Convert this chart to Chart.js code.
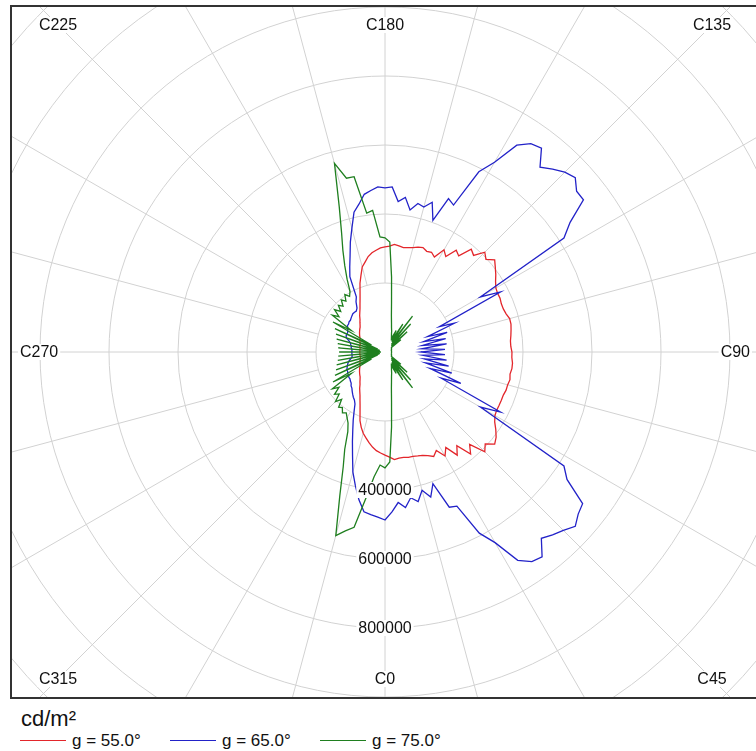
<!DOCTYPE html>
<html>
<head>
<meta charset="utf-8">
<script src="https://cdn.jsdelivr.net/npm/chart.js@4.4.1/dist/chart.umd.min.js"></script>
<style>
  body { margin: 0; background: #fff; font-family: "Liberation Sans", Arial, sans-serif; color: #111; }
  #frame { position: absolute; left: 10px; top: 5px; width: 746px; height: 690px; border: 2px solid #333; }
  #frame canvas { display: block; }
  #unit { position: absolute; left: 21px; top: 706px; font-size: 22px; }
  .key { position: absolute; top: 740px; width: 46px; height: 0; border-top: 1.5px solid; }
  .txt { position: absolute; top: 731px; font-size: 17px; }
</style>
</head>
<body>
<div id="frame"><canvas id="polar" width="746" height="690"></canvas></div>
<div id="unit">cd/m²</div>
<span class="key" style="left:20px;border-color:#e3262b"></span><span class="txt" style="left:72px">g = 55.0°</span>
<span class="key" style="left:170px;border-color:#2222c8"></span><span class="txt" style="left:222px">g = 65.0°</span>
<span class="key" style="left:320px;border-color:#1f7f1f"></span><span class="txt" style="left:372px">g = 75.0°</span>
<script>
// C-plane angles, 2.5 degree steps (C0 at bottom, C90 at right)
var step = 2.5;
var cAngles = [];
for (var c = 0; c < 360; c += step) cAngles.push(c);

// luminance in cd/m², one value per C angle above
var lum55 = [299000,305000,313000,310000,310000,313000,313000,316000,319000,325000,
  334000,322000,348000,328000,365000,342000,386000,363000,409000,394000,
  415000,406000,392000,377000,368000,365000,365000,365000,365000,368000,
  368000,371000,368000,371000,371000,368000,368000,365000,365000,368000,
  371000,374000,374000,368000,365000,365000,368000,368000,371000,380000,
  392000,403000,415000,397000,409000,380000,389000,351000,360000,328000,
  342000,310000,319000,316000,322000,319000,313000,310000,307000,310000,
  313000,307000,305000,302000,296000,290000,281000,267000,255000,232000,
  212000,189000,171000,157000,145000,136000,128000,119000,113000,107000,
  102000,99000,96000,93000,90000,87000,84000,81000,81000,78000,
  78000,75000,75000,75000,73000,73000,73000,73000,73000,73000,
  73000,73000,73000,73000,75000,75000,78000,78000,81000,81000,
  84000,87000,90000,93000,96000,99000,102000,107000,113000,119000,
  128000,136000,145000,157000,171000,189000,212000,229000,244000,255000,
  267000,278000,287000,293000];

var lum65 = [487000,464000,438000,455000,429000,444000,415000,441000,406000,487000,
  493000,592000,638000,716000,742000,748000,705000,719000,731000,748000,
  731000,722000,644000,615000,319000,377000,180000,238000,139000,203000,
  122000,189000,116000,180000,110000,174000,104000,174000,107000,180000,
  110000,180000,116000,189000,131000,218000,174000,377000,319000,615000,
  655000,725000,725000,748000,737000,719000,699000,745000,737000,711000,
  635000,589000,470000,481000,406000,455000,435000,441000,418000,452000,
  438000,479000,476000,479000,470000,461000,435000,415000,371000,334000,
  296000,267000,241000,180000,168000,151000,145000,145000,145000,142000,
  139000,136000,136000,133000,133000,128000,125000,122000,122000,122000,
  119000,110000,104000,102000,99000,99000,96000,96000,96000,96000,
  96000,96000,99000,104000,110000,113000,116000,119000,122000,122000,
  125000,125000,128000,128000,131000,133000,139000,142000,148000,154000,
  160000,165000,174000,194000,218000,244000,276000,313000,360000,397000,
  435000,467000,473000,479000];

var lum75 = [336000,319000,218000,145000,107000,87000,73000,64000,55000,49000,
  44000,70000,38000,96000,35000,131000,29000,110000,26000,87000,
  25000,58000,23000,22000,22000,21000,21000,20000,20000,20000,
  19000,19000,19000,19000,19000,19000,19000,19000,19000,19000,
  19000,19000,19000,20000,20000,20000,21000,21000,22000,22000,
  23000,58000,25000,87000,26000,110000,29000,131000,35000,96000,
  38000,70000,44000,49000,55000,64000,73000,87000,107000,145000,
  218000,319000,331000,334000,412000,406000,516000,516000,566000,441000,
  368000,319000,276000,238000,203000,191000,203000,186000,197000,180000,
  191000,174000,191000,168000,186000,116000,174000,44000,160000,23000,
  151000,17000,145000,15000,139000,15000,136000,12000,133000,12000,
  136000,15000,139000,15000,145000,17000,151000,23000,160000,44000,
  174000,116000,186000,168000,191000,180000,203000,186000,209000,203000,
  215000,209000,220000,232000,255000,305000,354000,435000,551000,531000,
  516000,429000,363000,328000];

var tickValues = [400000, 600000, 800000];
var dirLabels = [0, 45, 90, 135, 180, 225, 270, 315];

var GRID = '#d2d2d2';
var edgeValue = 1000000;   // value that reaches the top/bottom of the frame
var spokeFrom = 200000;

// Chart.js walks clockwise from the start angle, the C angles go the other way
var order = cAngles.map(function (a, i) { return (cAngles.length - i) % cAngles.length; });
var pick = function (arr) { return order.map(function (k) { return arr[k]; }); };

var decor = {
  id: 'decor',
  beforeDatasetsDraw: function (chart) {
    var s = chart.scales.r, ctx = chart.ctx;
    var n = chart.data.labels.length;
    ctx.save();
    ctx.strokeStyle = GRID;
    ctx.lineWidth = 1;
    ctx.beginPath();
    for (var i = 0; i < n; i += 15 / step) {
      var a = s.getPointPositionForValue(i, spokeFrom);
      var b = s.getPointPositionForValue(i, s.max);
      ctx.moveTo(a.x, a.y);
      ctx.lineTo(b.x, b.y);
    }
    ctx.stroke();
    ctx.restore();
  },
  afterDatasetsDraw: function (chart) {
    var s = chart.scales.r, ctx = chart.ctx, area = chart.chartArea;
    var n = chart.data.labels.length;
    ctx.save();
    ctx.font = '16px "Liberation Sans", Arial, sans-serif';
    ctx.textAlign = 'center';
    ctx.textBaseline = 'middle';
    function label(txt, x, y) {
      var w = ctx.measureText(txt).width;
      ctx.fillStyle = '#fff';
      ctx.fillRect(x - w / 2 - 2, y - 8, w + 4, 16);
      ctx.fillStyle = '#111';
      ctx.fillText(txt, x, y + 1);
    }
    tickValues.forEach(function (v) {
      var p = s.getPointPositionForValue(0, v);
      label(String(v), p.x, p.y);
    });
    dirLabels.forEach(function (c) {
      var idx = ((360 - c) / step) % n;
      var p = s.getPointPositionForValue(idx, s.max);
      var dx = p.x - s.xCenter, dy = p.y - s.yCenter;
      var len = Math.hypot(dx, dy);
      var ux = dx / len, uy = dy / len;
      var txt = 'C' + c;
      var hw = ctx.measureText(txt).width / 2 + 8;
      var tx = Math.abs(ux) > 1e-6 ? (ux > 0 ? area.right - hw - s.xCenter : s.xCenter - area.left - hw) / Math.abs(ux) : Infinity;
      var ty = Math.abs(uy) > 1e-6 ? (uy > 0 ? area.bottom - 18 - s.yCenter : s.yCenter - area.top - 18) / Math.abs(uy) : Infinity;
      var t = Math.min(tx, ty);
      label(txt, s.xCenter + ux * t, s.yCenter + uy * t);
    });
    ctx.restore();
  }
};

var ctx = document.getElementById('polar').getContext('2d');
var polarChart = new Chart(ctx, {
  type: 'radar',
  data: {
    labels: pick(cAngles).map(function (a) { return 'C' + a; }),
    datasets: [
      { label: 'g = 55.0°', data: pick(lum55), borderColor: '#e3262b', order: 2 },
      { label: 'g = 65.0°', data: pick(lum65), borderColor: '#2222c8', order: 1 },
      { label: 'g = 75.0°', data: pick(lum75), borderColor: '#1f7f1f', order: 0 }
    ]
  },
  options: {
    responsive: false,
    animation: false,
    layout: { padding: 0 },
    elements: {
      point: { radius: 0, hoverRadius: 0 },
      line: { borderWidth: 1.3, tension: 0, fill: false }
    },
    plugins: {
      legend: { display: false },
      tooltip: { enabled: false }
    },
    scales: {
      r: {
        min: 0,
        max: 1600000,
        startAngle: 180,
        ticks: { display: false, stepSize: 200000 },
        grid: { circular: true, color: GRID, lineWidth: 1 },
        angleLines: { display: false },
        pointLabels: { display: false },
        afterFit: function (scale) {
          scale.drawingArea = Math.round(scale.drawingArea * scale.max / edgeValue);
        }
      }
    }
  },
  plugins: [decor]
});
</script>
</body>
</html>
